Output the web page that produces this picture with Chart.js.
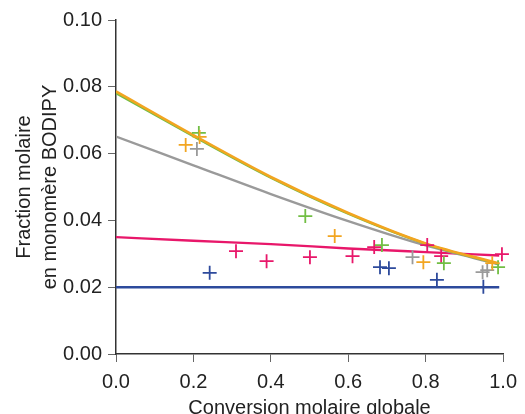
<!DOCTYPE html>
<html>
<head>
<meta charset="utf-8">
<script src="https://cdn.jsdelivr.net/npm/chart.js@4/dist/chart.umd.min.js"></script>
<style>
  html, body { margin: 0; padding: 0; background: #fff; }
  #wrap { width: 525px; height: 414px; }
</style>
</head>
<body>
<div id="wrap"><canvas id="chart" width="525" height="414"></canvas></div>
<script>
// fitted curves
const curveX = [0, 0.2, 0.4, 0.6, 0.8, 0.99];
const orangeCurve = [0.0786, 0.0655, 0.0530, 0.0422, 0.0331, 0.0271];
const greenCurve = [0.0781, 0.0652, 0.0528, 0.0420, 0.0330, 0.0269];
const grayCurve = [0.0651, 0.0565, 0.0479, 0.0398, 0.0325, 0.0268];
const pinkCurve = [0.0350, 0.0339, 0.0329, 0.0316, 0.0305, 0.0295];
const blueCurve = [0.0200, 0.0200, 0.0200, 0.0200, 0.0200, 0.0200];

// measured points
const greenX = [0.214, 0.489, 0.687, 0.847, 0.987];
const greenY = [0.0662, 0.0413, 0.0326, 0.0272, 0.0260];
const orangeX = [0.180, 0.216, 0.565, 0.794, 0.972];
const orangeY = [0.0626, 0.0650, 0.0353, 0.0275, 0.0272];
const grayX = [0.209, 0.766, 0.947, 0.959];
const grayY = [0.0614, 0.0290, 0.0245, 0.0251];
const pinkX = [0.310, 0.389, 0.501, 0.611, 0.667, 0.804, 0.840, 0.997];
const pinkY = [0.0308, 0.0278, 0.0290, 0.0293, 0.0320, 0.0326, 0.0293, 0.0299];
const blueX = [0.242, 0.682, 0.705, 0.829, 0.949];
const blueY = [0.0243, 0.0260, 0.0257, 0.0222, 0.0201];

const xTicks = [0, 0.2, 0.4, 0.6, 0.8, 1.0];
const yTicks = [0, 0.02, 0.04, 0.06, 0.08, 0.10];

const colors = {
  orange: '#f2a520',
  green: '#72be44',
  gray: '#9a9a9a',
  pink: '#e8176a',
  blue: '#2d4a9c'
};

const pts = (xs, ys) => xs.map((x, i) => ({ x: x, y: ys[i] }));

function curve(ys, color, width) {
  return {
    data: pts(curveX, ys),
    showLine: true,
    borderColor: color,
    borderWidth: width,
    pointRadius: 0,
    cubicInterpolationMode: 'monotone',
    fill: false
  };
}

function marks(xs, ys, color) {
  return {
    data: pts(xs, ys),
    showLine: false,
    pointStyle: 'cross',
    pointRadius: 7,
    pointBorderWidth: 1.8,
    borderColor: color,
    backgroundColor: color,
    clip: false
  };
}

// bottom-to-top; Chart.js paints the first dataset last, so reverse
const layers = [
  curve(blueCurve, colors.blue, 2.4),
  curve(pinkCurve, colors.pink, 2.4),
  curve(grayCurve, colors.gray, 2.4),
  curve(greenCurve, colors.green, 2.4),
  curve(orangeCurve, colors.orange, 2.6),
  marks(blueX, blueY, colors.blue),
  marks(pinkX, pinkY, colors.pink),
  marks(grayX, grayY, colors.gray),
  marks(greenX, greenY, colors.green),
  marks(orangeX, orangeY, colors.orange)
].reverse();

const font = { family: "'Liberation Sans', Arial, sans-serif", size: 20 };

new Chart(document.getElementById('chart'), {
  type: 'scatter',
  data: { datasets: layers },
  options: {
    responsive: false,
    animation: false,
    layout: { padding: { left: 0, right: 16, top: 20, bottom: 0 } },
    plugins: { legend: { display: false }, tooltip: { enabled: false } },
    scales: {
      x: {
        type: 'linear',
        min: 0,
        max: 1,
        afterFit: s => { s.height = 60; },
        afterBuildTicks: s => { s.ticks = xTicks.map(v => ({ value: v })); },
        ticks: { font: font, color: '#222', padding: 8, callback: v => v.toFixed(1) },
        grid: { drawOnChartArea: false, drawTicks: true, tickLength: 8, color: '#666' },
        border: { color: '#333', width: 1.5 },
        title: {
          display: true,
          text: 'Conversion molaire globale',
          font: font,
          color: '#222',
          padding: { top: 0, bottom: -6 }
        }
      },
      y: {
        type: 'linear',
        min: 0,
        max: 0.1,
        afterFit: s => { s.width = 116; },
        afterBuildTicks: s => { s.ticks = yTicks.map(v => ({ value: v })); },
        ticks: { font: font, color: '#222', padding: 6, callback: v => v.toFixed(2) },
        grid: { drawOnChartArea: false, drawTicks: true, tickLength: 8, color: '#666' },
        border: { color: '#333', width: 1.5 },
        title: {
          display: true,
          text: ['Fraction molaire', 'en monomère BODIPY'],
          font: Object.assign({}, font, { lineHeight: 1.3 }),
          color: '#222',
          padding: { top: 11, bottom: 0 }
        }
      }
    }
  }
});
</script>
</body>
</html>
